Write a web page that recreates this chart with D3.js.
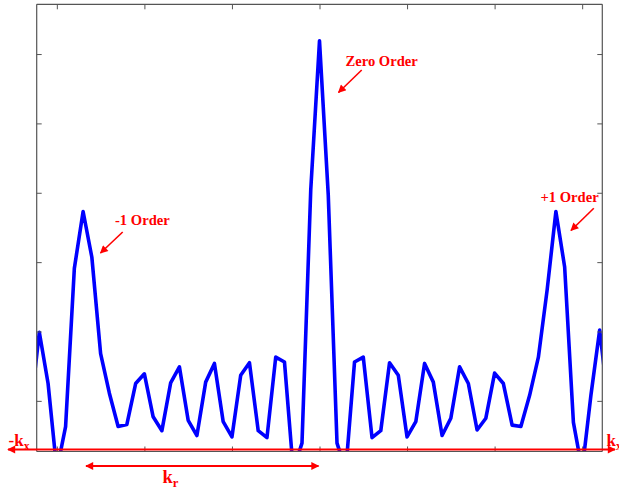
<!DOCTYPE html>
<html>
<head>
<meta charset="utf-8">
<script src="https://cdn.jsdelivr.net/npm/d3@7"></script>
<style>
  html, body { margin: 0; padding: 0; background: #fff; }
  svg { display: block; }
</style>
</head>
<body>
<svg id="chart" width="619" height="490"></svg>
<script>
// ---- data ----
const kValues = [-3.3,-3.2,-3.1,-3.0,-2.9,-2.8,-2.7,-2.6,-2.5,-2.4,-2.3,-2.2,-2.1,-2.0,-1.9,-1.8,-1.7,-1.6,-1.5,-1.4,-1.3,-1.2,-1.1,-1.0,-0.9,-0.8,-0.7,-0.6,-0.5,-0.4,-0.3,-0.2,-0.1,0.0,0.1,0.2,0.3,0.4,0.5,0.6,0.7,0.8,0.9,1.0,1.1,1.2,1.3,1.4,1.5,1.6,1.7,1.8,1.9,2.0,2.1,2.2,2.3,2.4,2.5,2.6,2.7,2.8,2.9,3.0,3.1,3.2,3.3];
const intensity = [0.87,1.99,1.25,0,0.63,2.91,3.73,3.07,1.68,1.11,0.63,0.66,1.25,1.39,0.77,0.57,1.26,1.49,0.72,0.50,1.27,1.54,0.70,0.48,1.37,1.55,0.57,0.47,1.63,1.56,0,0.39,4.04,6.19,3.97,0.39,0,1.56,1.63,0.47,0.57,1.55,1.37,0.48,0.70,1.54,1.27,0.50,0.75,1.49,1.25,0.58,0.75,1.40,1.25,0.65,0.63,1.08,1.63,2.60,3.73,2.93,0.69,0,1.08,2.02,0.94];
const xTicks = [-3,-2,-1,0,1,2,3];
const yTicks = [1,2,3,4,5,6];
const orderLabels = ["-1 Order","Zero Order","+1 Order"];

// ---- layout ----
const L = 36.7, R = 602.3, T = 4.3, B = 451.5;
const svg = d3.select("#chart");
const x = d3.scaleLinear().domain([-3.23, 3.23]).range([L, R]);
const y = d3.scaleLinear().domain([0.27, 6.717]).range([B, T]);

const red = "#ff0000";
const axisColor = "#555";

// markers
const defs = svg.append("defs");
function marker(id, len, wid) {
  defs.append("marker")
    .attr("id", id)
    .attr("viewBox", "0 0 10 10")
    .attr("refX", 9).attr("refY", 5)
    .attr("markerUnits", "userSpaceOnUse")
    .attr("markerWidth", len).attr("markerHeight", wid)
    .attr("orient", "auto-start-reverse")
    .append("path").attr("d", "M0,0 L10,5 L0,10 Z").attr("fill", red);
}
marker("ah", 11, 8);
marker("ahs", 10, 8);

defs.append("clipPath").attr("id", "plotClip")
  .append("rect").attr("x", L).attr("y", T).attr("width", R - L).attr("height", B - T);

// curve
const line = d3.line().x((d, i) => x(kValues[i])).y(d => y(d));
svg.append("path")
  .datum(intensity)
  .attr("clip-path", "url(#plotClip)")
  .attr("d", line)
  .attr("fill", "none")
  .attr("stroke", "#0000ff")
  .attr("stroke-width", 3.6)
  .attr("stroke-linejoin", "round");

// axes box with inward ticks
const tl = 5;
const gTop = svg.append("g").attr("transform", `translate(0,${T})`)
  .call(d3.axisBottom(x).tickValues(xTicks).tickSize(tl).tickFormat(""));
const gBot = svg.append("g").attr("transform", `translate(0,${B})`)
  .call(d3.axisTop(x).tickValues(xTicks).tickSize(tl).tickFormat(""));
const gLeft = svg.append("g").attr("transform", `translate(${L},0)`)
  .call(d3.axisRight(y).tickValues(yTicks).tickSize(tl).tickFormat(""));
const gRight = svg.append("g").attr("transform", `translate(${R},0)`)
  .call(d3.axisLeft(y).tickValues(yTicks).tickSize(tl).tickFormat(""));
[gTop, gBot, gLeft, gRight].forEach(g => {
  g.selectAll(".domain").attr("stroke", axisColor).attr("stroke-width", 1.2);
  g.selectAll(".tick line").attr("stroke", axisColor).attr("stroke-width", 1);
});
[gTop, gBot].forEach(g => g.select(".domain").attr("d", `M${L},0H${R}`));
[gLeft, gRight].forEach(g => g.select(".domain").attr("d", `M0,${T}V${B}`));

// red kx axis double arrow
svg.append("line")
  .attr("x1", 8).attr("x2", 615).attr("y1", 449.5).attr("y2", 449.5)
  .attr("stroke", red).attr("stroke-width", 1.8)
  .attr("marker-start", "url(#ah)").attr("marker-end", "url(#ah)");

// kr double arrow
svg.append("line")
  .attr("x1", 86).attr("x2", x(0) - 1).attr("y1", 466).attr("y2", 466)
  .attr("stroke", red).attr("stroke-width", 1.8)
  .attr("marker-start", "url(#ah)").attr("marker-end", "url(#ah)");

const font = "'Liberation Serif', 'Times New Roman', serif";
function subLabel(xp, yp, main, sub, size) {
  const t = svg.append("text").attr("x", xp).attr("y", yp)
    .attr("font-family", font).attr("font-weight", "bold")
    .attr("font-size", size).attr("fill", red);
  t.append("tspan").text(main);
  t.append("tspan").attr("dy", size * 0.22).attr("font-size", size * 0.68).text(sub);
}
subLabel(8.5, 446, "-k", "x", 17);
subLabel(606.5, 446, "k", "x", 17);
subLabel(162.5, 482.5, "k", "r", 18.5);

// order annotations
const labelPos = [[115, 224.5], [345.5, 65.5], [540.5, 202]];
const arrowPos = [[122.7, 232, 100.5, 253], [361.7, 70, 338.5, 92.5], [593.8, 208.3, 571, 230.5]];
orderLabels.forEach((lab, i) => {
  svg.append("text").attr("x", labelPos[i][0]).attr("y", labelPos[i][1])
    .attr("font-family", font).attr("font-weight", "bold")
    .attr("font-size", 14.6).attr("fill", red).text(lab);
  const a = arrowPos[i];
  svg.append("line").attr("x1", a[0]).attr("y1", a[1]).attr("x2", a[2]).attr("y2", a[3])
    .attr("stroke", red).attr("stroke-width", 1.6).attr("marker-end", "url(#ahs)");
});
</script>
</body>
</html>
